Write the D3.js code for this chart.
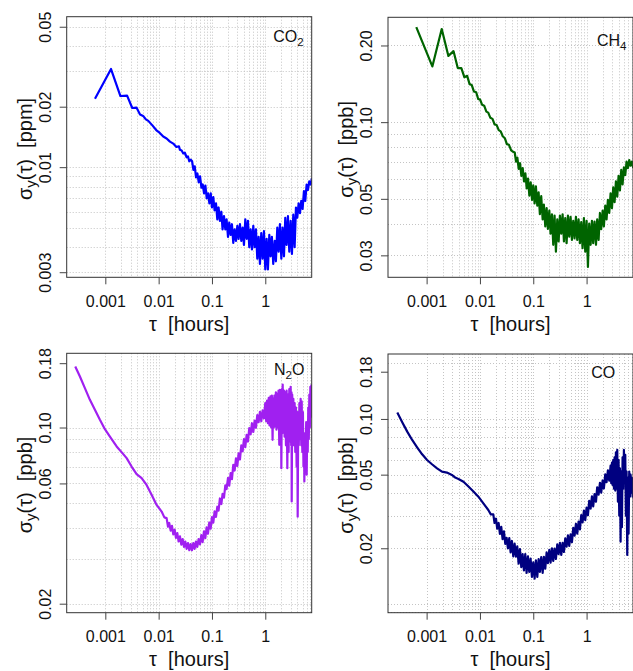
<!DOCTYPE html>
<html><head><meta charset="utf-8">
<script src="https://cdn.jsdelivr.net/npm/d3@7"></script>
<style>
body{margin:0;background:#fff}
svg{display:block}
text{font-family:"Liberation Sans",Arial,Helvetica,sans-serif;fill:#111}
</style>
</head><body>
<svg id="chart" width="633" height="671"></svg>
<script>
// ---------- data (tau in hours, Allan deviation) ----------
const xTicks = [0.001, 0.01, 0.1, 1];
const xTickLabels = ["0.001", "0.01", "0.1", "1"];

const co2Ticks = [0.003, 0.01, 0.02, 0.05];
const co2TickLabels = ["0.003", "0.01", "0.02", "0.05"];
const ch4Ticks = [0.03, 0.05, 0.10, 0.20];
const ch4TickLabels = ["0.03", "0.05", "0.10", "0.20"];
const n2oTicks = [0.02, 0.06, 0.10, 0.18];
const n2oTickLabels = ["0.02", "0.06", "0.10", "0.18"];
const coTicks = [0.02, 0.05, 0.10, 0.18];
const coTickLabels = ["0.02", "0.05", "0.10", "0.18"];

const co2 = [
[0.00064,0.0219],[0.00128,0.0308],[0.00192,0.0226],[0.00256,0.0227],[0.0032,0.0197],[0.00384,0.0198],[0.00448,0.0183],[0.00512,0.0180],[0.00576,0.0173],[0.0064,0.0170],[0.0077,0.0161],[0.0090,0.0153],[0.0105,0.0148],[0.0122,0.0142],[0.0141,0.0139],[0.0163,0.0134],[0.0188,0.0131],[0.0215,0.0126],[0.0240,0.0127],[0.0251,0.0122],[0.0270,0.0121],[0.0290,0.0117],[0.0310,0.0118],[0.0335,0.0112],[0.0355,0.0113],[0.0375,0.0107],[0.0400,0.0109],
[0.0424,0.0107],[0.0449,0.0097],[0.0475,0.0101],[0.0503,0.0089],[0.0533,0.0093],[0.0565,0.0084],[0.0598,0.0090],[0.0634,0.0079],[0.0671,0.0082],[0.0711,0.0074],[0.0753,0.0081],[0.0798,0.0070],[0.0845,0.0074],[0.0895,0.0066],[0.0948,0.0074],[0.100,0.0063],[0.106,0.0071],[0.112,0.0061],[0.119,0.0066],[0.126,0.0055],[0.133,0.0063],[0.141,0.0054],[0.150,0.0060],[0.158,0.0049],[0.168,0.0057],[0.178,0.0049],[0.188,0.0055],[0.200,0.0045],[0.211,0.0053],[0.224,0.0046],[0.237,0.0052],[0.251,0.0042],[0.266,0.0049],[0.282,0.0043],[0.299,0.0051],[0.316,0.0044],[0.335,0.0052],[0.355,0.0043],[0.376,0.0050],[0.398,0.0041],[0.422,0.0055],[0.447,0.0044],[0.473,0.0054],[0.501,0.0040],[0.531,0.0049],[0.562,0.0039],[0.596,0.0051],[0.631,0.0040],[0.668,0.0049],[0.708,0.0035],[0.750,0.0045],[0.794,0.0033],[0.841,0.0047],[0.891,0.0035],[0.944,0.0048],[1.00,0.0031],[1.06,0.0044],[1.12,0.0031],[1.19,0.0046],[1.26,0.0036],[1.33,0.0045],[1.41,0.0033],[1.50,0.0043],[1.58,0.0034],[1.68,0.0050],[1.78,0.0038],[1.88,0.0052],[2.00,0.0035],[2.11,0.0050],[2.24,0.0036],[2.37,0.0056],[2.51,0.0041],[2.66,0.0057],[2.82,0.0038],[2.99,0.0054],[3.16,0.0037],[3.35,0.0058],[3.55,0.0040],[3.76,0.0063],[3.98,0.0056],[4.22,0.0066],[4.47,0.0059],[4.73,0.0068],[5.01,0.0062],[5.31,0.0076],[5.62,0.0068],[5.96,0.0082],[6.31,0.0077],[6.68,0.0085],[7.08,0.0082],[7.50,0.0088]
];

const ch4 = [
[0.00064,0.236],[0.00128,0.1655],[0.00192,0.232],[0.00256,0.182],[0.0032,0.190],[0.00384,0.163],[0.00448,0.163],[0.00512,0.150],[0.00576,0.152],[0.0064,0.141],[0.0070,0.140],[0.0077,0.132],[0.0085,0.131],[0.0093,0.123],[0.0100,0.123],[0.0110,0.117],[0.0120,0.116],[0.0132,0.110],[0.0143,0.109],[0.0157,0.104],[0.0172,0.103],[0.0188,0.098],[0.0205,0.0975],[0.0225,0.093],[0.0245,0.092],[0.0268,0.088],[0.0293,0.0865],[0.032,0.082],[0.035,0.0815],[0.0385,0.0775],[0.042,0.0765],
[0.0449,0.0760],[0.0475,0.0700],[0.0503,0.0725],[0.0533,0.0655],[0.0565,0.0690],[0.0598,0.0615],[0.0634,0.0660],[0.0671,0.0585],[0.0711,0.0630],[0.0753,0.0550],[0.0798,0.0600],[0.0845,0.0515],[0.0895,0.0580],[0.0948,0.0495],[0.100,0.0565],[0.106,0.0480],[0.112,0.0560],[0.119,0.0470],[0.126,0.0530],[0.133,0.0435],[0.141,0.0512],[0.150,0.0415],[0.158,0.0475],[0.168,0.0390],[0.178,0.0460],[0.188,0.0381],[0.200,0.0450],[0.211,0.0365],[0.224,0.0435],[0.237,0.0330],[0.251,0.0430],[0.266,0.0310],[0.282,0.0415],[0.299,0.0340],[0.316,0.0430],[0.335,0.0365],[0.355,0.0435],[0.376,0.0340],[0.398,0.0420],[0.422,0.0335],[0.447,0.0430],[0.473,0.0355],[0.501,0.0425],[0.531,0.0345],[0.562,0.0410],[0.596,0.0350],[0.631,0.0425],[0.668,0.0345],[0.708,0.0415],[0.750,0.0335],[0.794,0.0405],[0.841,0.0320],[0.891,0.0420],[0.944,0.0310],[1.00,0.0410],[1.06,0.0270],[1.12,0.0400],[1.19,0.0330],[1.26,0.0410],[1.33,0.0335],[1.41,0.0407],[1.50,0.0330],[1.58,0.0415],[1.68,0.0345],[1.78,0.0440],[1.88,0.0380],[2.00,0.0450],[2.11,0.0390],[2.24,0.0470],[2.37,0.0415],[2.51,0.0495],[2.66,0.0440],[2.82,0.0525],[2.99,0.0460],[3.16,0.0555],[3.35,0.0485],[3.55,0.0585],[3.76,0.0510],[3.98,0.0615],[4.22,0.0540],[4.47,0.0650],[4.73,0.0570],[5.01,0.0665],[5.31,0.0620],[5.62,0.0700],[5.96,0.0660],[6.31,0.0710],[6.68,0.0675],[7.08,0.0700],[7.50,0.0660]
];

const n2o = [
[0.000273,0.1746],[0.000334,0.1594],[0.000414,0.1433],[0.000514,0.1288],[0.000638,0.1176],[0.000792,0.1073],[0.000983,0.0985],[0.00122,0.0921],[0.00163,0.0841],[0.00217,0.0784],[0.00251,0.0756],[0.00311,0.0700],[0.00386,0.0653],[0.0048,0.0630],[0.00594,0.0592],[0.00738,0.0541],[0.00916,0.0493],[0.01138,0.0464],[0.0128,0.0440],
[0.0141,0.0437],[0.0150,0.0404],[0.0158,0.0418],[0.0168,0.0390],[0.0178,0.0407],[0.0188,0.0377],[0.0200,0.0393],[0.0211,0.0365],[0.0224,0.0381],[0.0237,0.0353],[0.0251,0.0370],[0.0266,0.0343],[0.0282,0.0361],[0.0299,0.0336],[0.0316,0.0353],[0.0335,0.0330],[0.0355,0.0348],[0.0376,0.0326],[0.0398,0.0345],[0.0422,0.0326],[0.0447,0.0348],[0.0473,0.0330],[0.0501,0.0353],[0.0531,0.0336],[0.0562,0.0361],[0.0596,0.0344],[0.0631,0.0374],[0.0668,0.0351],[0.0708,0.0387],[0.0750,0.0364],[0.0794,0.0402],[0.0841,0.0379],[0.0891,0.0420],[0.0944,0.0397],[0.100,0.0441],[0.106,0.0419],[0.112,0.0465],[0.119,0.0442],[0.126,0.0485],[0.133,0.0468],[0.141,0.0523],[0.150,0.0497],[0.158,0.0545],[0.168,0.0527],[0.178,0.0589],[0.188,0.0570],[0.200,0.0631],[0.211,0.0588],[0.224,0.0660],[0.237,0.0624],[0.251,0.0711],[0.266,0.0675],[0.282,0.0755],[0.299,0.0704],[0.316,0.0790],[0.335,0.0747],[0.355,0.0849],[0.376,0.0805],[0.398,0.0900],[0.422,0.0836],[0.447,0.0935],[0.473,0.0880],[0.501,0.0995],[0.531,0.0940],[0.562,0.1040],[0.596,0.0960],[0.631,0.1065],[0.668,0.0998],[0.708,0.1121],[0.750,0.1050],[0.794,0.1155],[0.841,0.1059],[0.891,0.1170],[0.944,0.1088],
[1.00,0.1250],[1.04,0.1060],[1.08,0.1280],[1.12,0.1040],[1.16,0.1310],[1.20,0.1020],[1.25,0.1330],[1.29,0.1000],[1.33,0.1340],[1.37,0.0894],[1.40,0.1300],[1.44,0.1000],[1.48,0.1340],[1.53,0.1010],[1.58,0.1380],[1.62,0.0980],[1.67,0.1360],[1.72,0.1000],[1.77,0.1400],[1.83,0.0854],[1.88,0.1410],[1.93,0.0980],[1.97,0.1400],[2.00,0.0690],[2.05,0.1420],[2.09,0.0950],[2.12,0.1480],[2.18,0.0960],[2.24,0.1400],[2.30,0.0920],[2.37,0.1380],[2.44,0.0850],[2.51,0.1400],[2.59,0.0690],[2.66,0.1350],[2.74,0.0800],[2.82,0.1420],[2.90,0.0880],[2.99,0.1450],[3.06,0.0850],[3.10,0.1380],[3.13,0.0509],[3.20,0.1350],[3.28,0.0900],[3.36,0.1300],[3.45,0.0850],[3.55,0.1250],[3.65,0.0800],[3.76,0.1200],[3.87,0.0700],[3.98,0.1150],[4.05,0.0443],[4.15,0.1100],[4.25,0.0850],[4.36,0.1250],[4.47,0.0900],[4.60,0.1300],[4.73,0.0850],[4.82,0.1270],[4.95,0.0800],[5.08,0.1150],[5.20,0.0700],[5.32,0.0950],[5.40,0.0611],[5.55,0.0900],[5.70,0.0750],[5.85,0.1050],[5.98,0.0650],[6.10,0.1000],[6.25,0.0800],[6.40,0.1200],[6.55,0.0900],[6.70,0.1350],[6.85,0.1000],[7.00,0.1450],[7.15,0.1100],[7.30,0.1470],[7.50,0.1200]
];

const co = [
[0.000282,0.1082],[0.000349,0.0959],[0.000433,0.0854],[0.000536,0.0770],[0.000664,0.0703],[0.000824,0.0644],[0.00102,0.0600],[0.00126,0.0569],[0.00157,0.0541],[0.00194,0.0519],[0.0024,0.0513],[0.00298,0.0498],[0.00344,0.0482],[0.00396,0.0474],[0.00491,0.0458],[0.00609,0.0431],[0.00755,0.0405],[0.00935,0.0380],[0.0116,0.0350],[0.01435,0.0322],[0.0160,0.0305],
[0.0178,0.0305],[0.0188,0.0274],[0.0200,0.0289],[0.0211,0.0255],[0.0224,0.0274],[0.0237,0.0239],[0.0251,0.0261],[0.0266,0.0224],[0.0282,0.0247],[0.0299,0.0211],[0.0316,0.0228],[0.0335,0.0200],[0.0355,0.0227],[0.0376,0.0190],[0.0398,0.0219],[0.0422,0.0181],[0.0447,0.0212],[0.0473,0.0180],[0.0501,0.0205],[0.0531,0.0165],[0.0562,0.0198],[0.0596,0.0158],[0.0631,0.0186],[0.0668,0.0152],[0.0708,0.0186],[0.0750,0.0147],[0.0794,0.0181],[0.0841,0.0149],[0.0891,0.0176],[0.0944,0.0140],[0.100,0.0168],[0.106,0.0137],[0.112,0.0172],[0.119,0.0140],[0.126,0.0175],[0.133,0.0149],[0.141,0.0179],[0.150,0.0147],[0.158,0.0180],[0.168,0.0155],[0.178,0.0190],[0.188,0.0166],[0.200,0.0196],[0.211,0.0167],[0.224,0.0200],[0.237,0.0171],[0.251,0.0199],[0.266,0.0175],[0.282,0.0210],[0.299,0.0186],[0.316,0.0214],[0.335,0.0184],[0.355,0.0214],[0.376,0.0191],[0.398,0.0226],[0.422,0.0204],[0.447,0.0235],[0.473,0.0206],[0.501,0.0238],[0.531,0.0216],[0.562,0.0258],[0.596,0.0234],[0.631,0.0271],[0.668,0.0240],[0.708,0.0279],[0.750,0.0253],[0.794,0.0302],[0.841,0.0276],[0.891,0.0320],[0.944,0.0284],[1.00,0.0332],[1.06,0.0302],[1.12,0.0361],[1.19,0.0328],[1.26,0.0382],[1.33,0.0337],[1.41,0.0392],[1.50,0.0357],[1.58,0.0427],[1.68,0.0390],[1.78,0.0452],[1.88,0.0400],[2.00,0.0465],[2.11,0.0421],[2.24,0.0502],[2.37,0.0455],[2.51,0.0527],[2.66,0.0464],
[2.82,0.0560],[2.90,0.0450],[2.99,0.0580],[3.07,0.0440],[3.16,0.0600],[3.26,0.0420],[3.35,0.0620],[3.45,0.0410],[3.55,0.0660],[3.65,0.0420],[3.76,0.0680],[3.87,0.0357],[3.98,0.0600],[4.10,0.0300],[4.22,0.0540],[4.34,0.0217],[4.47,0.0520],[4.60,0.0260],[4.73,0.0620],[4.87,0.0420],[5.01,0.0680],[5.16,0.0450],[5.31,0.0640],[5.46,0.0300],[5.62,0.0520],[5.79,0.0184],[5.96,0.0480],[6.13,0.0240],[6.31,0.0520],[6.49,0.0380],[6.68,0.0500],[6.88,0.0400],[7.08,0.0480],[7.29,0.0380],[7.50,0.0460]
];

// ---------- layout ----------
const xDomain = [1.887e-4, 7.42];
const panels = [
  {data: co2, color: "#0000ff", ticks: co2Ticks, labels: co2TickLabels, unit: "ppm",
   gas: [["CO",0],["2",1]], box: {l: 66.7, t: 16.7, r: 311.7, b: 277.3},
   yDomain: [0.00283, 0.0561], gx: 273.3, gy: 41.7},
  {data: ch4, color: "#006400", ticks: ch4Ticks, labels: ch4TickLabels, unit: "ppb",
   gas: [["CH",0],["4",1]], box: {l: 388, t: 17.3, r: 633, b: 277.3},
   yDomain: [0.0246, 0.258], gx: 597, gy: 45.5},
  {data: n2o, color: "#a020f0", ticks: n2oTicks, labels: n2oTickLabels, unit: "ppb",
   gas: [["N",0],["2",1],["O",0]], box: {l: 66.7, t: 353.3, r: 311.7, b: 612.7},
   yDomain: [0.01842, 0.197], gx: 274, gy: 375},
  {data: co, color: "#000080", ticks: coTicks, labels: coTickLabels, unit: "ppb",
   gas: [["CO",0]], box: {l: 388, t: 354, r: 633, b: 612.7},
   yDomain: [0.00897, 0.2244], gx: 591.3, gy: 378.3}
];

const svg = d3.select("#chart");
const defs = svg.append("defs");
const decades = [-3, -2, -1, 0];
const mult = [1,2,3,4,5,6,7,8,9];
const gridVals = [];
decades.forEach(e => mult.forEach(k => gridVals.push(+(k * Math.pow(10, e)).toPrecision(3))));

panels.forEach((p, i) => {
  const b = p.box;
  const x = d3.scaleLog().domain(xDomain).range([b.l, b.r]);
  const y = d3.scaleLog().domain(p.yDomain).range([b.b, b.t]);
  const g = svg.append("g");

  defs.append("clipPath").attr("id", "clip" + i)
    .append("rect").attr("x", b.l).attr("y", b.t).attr("width", b.r - b.l).attr("height", b.b - b.t);

  // grid
  const vx = gridVals.filter(v => v >= 0.001 && v <= xDomain[1]);
  const hy = gridVals.filter(v => v >= p.yDomain[0] && v <= p.yDomain[1]);
  const grid = g.append("g").attr("stroke", "#c4c4c4").attr("stroke-width", 1)
    .attr("stroke-dasharray", "1,2");
  grid.selectAll("line.v").data(vx).join("line").attr("class", "v")
    .attr("x1", d => Math.round(x(d)) + 0.5).attr("x2", d => Math.round(x(d)) + 0.5)
    .attr("y1", b.t).attr("y2", b.b);
  grid.selectAll("line.h").data(hy).join("line").attr("class", "h")
    .attr("y1", d => Math.round(y(d)) + 0.5).attr("y2", d => Math.round(y(d)) + 0.5)
    .attr("x1", b.l).attr("x2", b.r);

  // data
  g.append("path").datum(p.data)
    .attr("clip-path", "url(#clip" + i + ")")
    .attr("fill", "none").attr("stroke", p.color).attr("stroke-width", 2.2)
    .attr("stroke-linejoin", "round")
    .attr("d", d3.line().x(d => x(d[0])).y(d => y(d[1])));

  // box
  g.append("rect").attr("x", b.l).attr("y", b.t).attr("width", b.r - b.l).attr("height", b.b - b.t)
    .attr("fill", "none").attr("stroke", "#333").attr("stroke-width", 1);

  // x axis
  const xa = g.append("g").attr("transform", `translate(0,${b.b})`)
    .call(d3.axisBottom(x).tickValues(xTicks).tickFormat((d, j) => xTickLabels[j]).tickSize(7).tickPadding(11));
  xa.select(".domain").remove();
  xa.selectAll(".tick line").attr("stroke", "#444");
  xa.selectAll(".tick text").attr("font-size", 16).attr("fill", "#111")
    .attr("font-family", '"Liberation Sans",Arial,sans-serif');

  // y axis
  const ya = g.append("g").attr("transform", `translate(${b.l},0)`)
    .call(d3.axisLeft(y).tickValues(p.ticks).tickFormat((d, j) => p.labels[j]).tickSize(7));
  ya.select(".domain").remove();
  ya.selectAll(".tick line").attr("stroke", "#444");
  ya.selectAll(".tick text").attr("font-size", 16).attr("fill", "#111")
    .attr("font-family", '"Liberation Sans",Arial,sans-serif')
    .attr("transform", "rotate(-90)").attr("x", 0).attr("y", -15.7).attr("dy", null)
    .attr("text-anchor", "middle");

  // x title
  g.append("text").attr("x", (b.l + b.r) / 2).attr("y", b.b + 53.5)
    .attr("text-anchor", "middle").attr("font-size", 20)
    .text("\u03c4\u00a0\u00a0[hours]");

  // y title
  const yt = g.append("text")
    .attr("transform", `translate(${b.l - 35},${(b.t + b.b) / 2 + 2}) rotate(-90)`)
    .attr("text-anchor", "middle").attr("font-size", 20);
  yt.append("tspan").text("\u03c3");
  yt.append("tspan").attr("font-size", 15).attr("dy", 4).text("y");
  yt.append("tspan").attr("dy", -4).text("(\u03c4)\u00a0\u00a0[" + p.unit + "]");

  // gas label
  const gl = g.append("text").attr("x", p.gx).attr("y", p.gy).attr("font-size", 16);
  let shifted = 0;
  p.gas.forEach(([t, sub]) => {
    const ts = gl.append("tspan").text(t);
    if (sub && !shifted) { ts.attr("font-size", 11.5).attr("dy", 4); shifted = 1; }
    else if (!sub && shifted) { ts.attr("dy", -4); shifted = 0; }
  });
});
</script>
</body></html>
